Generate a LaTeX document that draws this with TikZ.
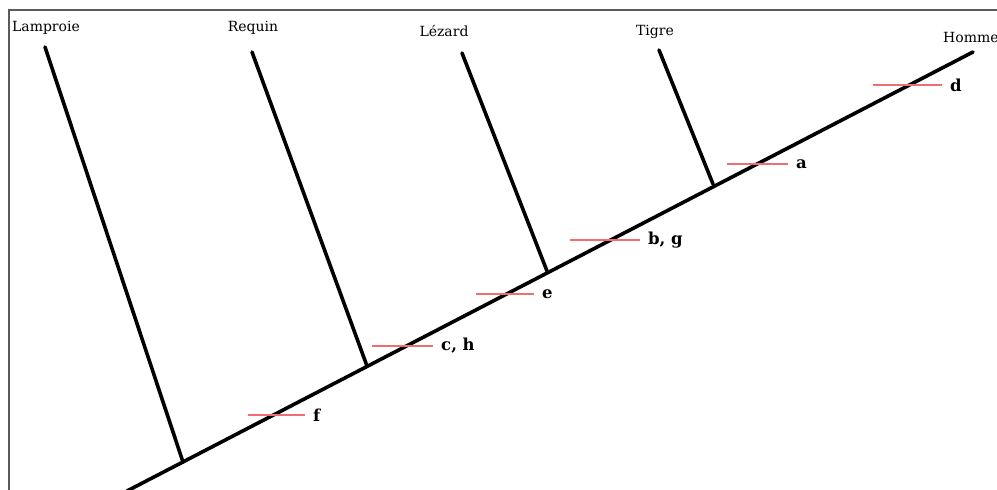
\documentclass[tikz,border=0pt]{standalone}
\usepackage{fontspec}
\setmainfont{DejaVu Serif}
\usetikzlibrary{positioning}
\definecolor{TreeRed}{HTML}{F06E72}
\definecolor{FrameGray}{HTML}{5A5A5A}

\begin{document}
\begin{tikzpicture}[x=1pt,y=-1pt,
      taxon/.style={font=\fontsize{14}{16}\selectfont,inner sep=0pt},
      trait/.style={font=\fontsize{16.5}{19}\selectfont\bfseries,inner sep=0pt,anchor=west},
      branch/.style={line width=3.6pt,line cap=round,black},
      tick/.style={line width=1.4pt,color=TreeRed}
    ]
      \useasboundingbox (0,0) rectangle (997,490);
      \draw[FrameGray,line width=1.2pt] (9,492) -- (9,10) -- (999,10);
      % taxa
      \node[taxon] (lamproie) at (46,28) {Lamproie};
      \node[taxon] (requin) at (253,28) {Requin};
      \node[taxon] (lezard) at (444,31) {Lézard};
      \node[taxon] (tigre) at (655,32) {Tigre};
      \node[taxon,anchor=west] (homme) at (943,37) {Homme};
      % tree
      \coordinate (root) at (127,491);
      \coordinate (tHomme) at (973,52);
      \coordinate (tLamproie) at (45,47);
      \coordinate (jLamproie) at (183,462);
      \coordinate (tRequin) at (252,52);
      \coordinate (jRequin) at (367,366);
      \coordinate (tLezard) at (462,53);
      \coordinate (jLezard) at (547,271);
      \coordinate (tTigre) at (659,50);
      \coordinate (jTigre) at (713,184);
      \draw[branch] (root) -- (tHomme);
      \draw[branch] (tLamproie) -- (jLamproie);
      \draw[branch] (tRequin) -- (jRequin);
      \draw[branch] (tLezard) -- (jLezard);
      \draw[branch] (tTigre) -- (jTigre);
      % traits
      \foreach \name/\xa/\xb/\yy/\txt in {f/248/305/415/f, ch/372/433/346/{c, h},
          e/476/534/294/e, bg/570/640/240/{b, g}, a/727/788/164/a, d/873/942/85/d}{
        \coordinate (\name-l) at (\xa,\yy);
        \coordinate (\name-r) at (\xb,\yy);
        \draw[tick] (\name-l) -- (\name-r);
        \node[trait,right=8pt of \name-r] (\name) {\txt};
      }
    \end{tikzpicture}
\end{document}
